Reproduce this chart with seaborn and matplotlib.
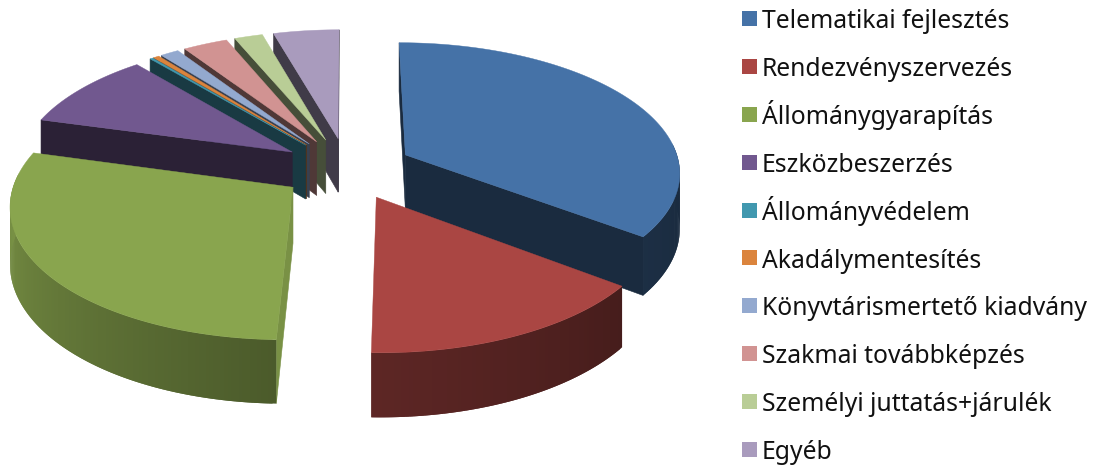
import numpy as np
import matplotlib
matplotlib.use("Agg")
import matplotlib.pyplot as plt
from matplotlib.patches import Rectangle
import seaborn as sns

categories = ["Telematikai fejlesztés", "Rendezvényszervezés", "Állománygyarapítás",
              "Eszközbeszerzés", "Állományvédelem", "Akadálymentesítés",
              "Könyvtárismertető kiadvány", "Szakmai továbbképzés",
              "Személyi juttatás+járulék", "Egyéb"]
values = [35.3, 15.1, 28.8, 9.55, 0.2, 0.4, 1.25, 3.0, 1.9, 4.4]
colors = ["#4572A7", "#AA4643", "#89A54E", "#71588F", "#4198AF",
          "#DB843D", "#93A9CF", "#D19392", "#B9CD96", "#A99BBD"]

# projection of the tilted pie, in pixels
CX, CY = 347, 168.5
RX, RY = 275, 129
TILT = 0.122
DEPTH = 55
EXPLODE = 0.24

sns.set_theme(style="white")
plt.rcParams["font.family"] = ["Noto Sans", "DejaVu Sans"]
palette = sns.color_palette(colors)


def project(u, v, drop=0.0):
    s = 1 / (1 + TILT * v)
    return CX + RX * u * s, CY - RY * v * s + DEPTH * s * drop


def shade(color, f):
    return tuple(min(1, c * f) for c in color)


def wall_area(xs, ys):
    return sum(xs[j] * ys[(j + 1) % 4] - xs[(j + 1) % 4] * ys[j] for j in range(4))


fig = plt.figure(figsize=(10.95, 4.69), dpi=100)
ax = fig.add_axes([0, 0, 1, 1])
ax.set_xlim(0, 1095)
ax.set_ylim(469, 0)
ax.axis("off")

total = sum(values)
edges = np.cumsum([0] + values) / total * 360
slices = []
for i in range(len(values)):
    mid = np.radians((edges[i] + edges[i + 1]) / 2)
    slices.append((edges[i], edges[i + 1], EXPLODE * np.sin(mid), EXPLODE * np.cos(mid)))

# back to front, the thin ones on the left stack towards the viewer
order = [9, 8, 7, 6, 5, 4, 3, 0, 2, 1]
for i in order:
    a0, a1, ox, oy = slices[i]
    col = palette[i]
    ang = np.radians(np.linspace(a0, a1, max(3, int((a1 - a0) * 1.5))))
    rim_u = ox + np.sin(ang)
    rim_v = oy + np.cos(ang)

    # radial walls, only the ones that face the viewer
    for au, av, sign in [(rim_u[0], rim_v[0], -1), (rim_u[-1], rim_v[-1], 1)]:
        x0, y0 = project(ox, oy)
        x1, y1 = project(au, av)
        x2, y2 = project(au, av, 1)
        x3, y3 = project(ox, oy, 1)
        xs, ys = [x0, x1, x2, x3], [y0, y1, y2, y3]
        if wall_area(xs, ys) * sign <= 0:
            continue
        f = 0.88 if i == 2 else 0.38
        ax.fill(xs, ys, color=shade(col, f), lw=0.4, zorder=1)

    # outer rim, shaded by angle; each strip overlaps the next to hide seams
    for k in range(len(ang) - 1):
        deg = np.degrees((ang[k] + ang[k + 1]) / 2)
        if not 85 < deg < 275:
            continue
        f = np.interp(deg, [90, 127, 182, 270], [0.36, 0.41, 0.55, 0.88])
        k2 = min(k + 2, len(ang) - 1)
        xa, ya = project(rim_u[k], rim_v[k])
        xb, yb = project(rim_u[k2], rim_v[k2])
        xc, yc = project(rim_u[k2], rim_v[k2], 1)
        xd, yd = project(rim_u[k], rim_v[k], 1)
        ax.fill([xa, xb, xc, xd], [ya, yb, yc, yd], color=shade(col, f), lw=0, zorder=1)

    # top face
    tx, ty = project(np.r_[ox, rim_u], np.r_[oy, rim_v])
    ax.fill(tx, ty, color=col, lw=0.3, zorder=1)

# legend placed row by row so the accented labels keep an even pitch
for i, name in enumerate(categories):
    row = 47.9 * i
    ax.add_patch(Rectangle((742, 11 + row), 15, 15, facecolor=palette[i], edgecolor="none"))
    ax.text(762, 28 + row, name, fontsize=17.8, color="#111111", va="baseline", ha="left")

fig.savefig("out.png", dpi=100)
